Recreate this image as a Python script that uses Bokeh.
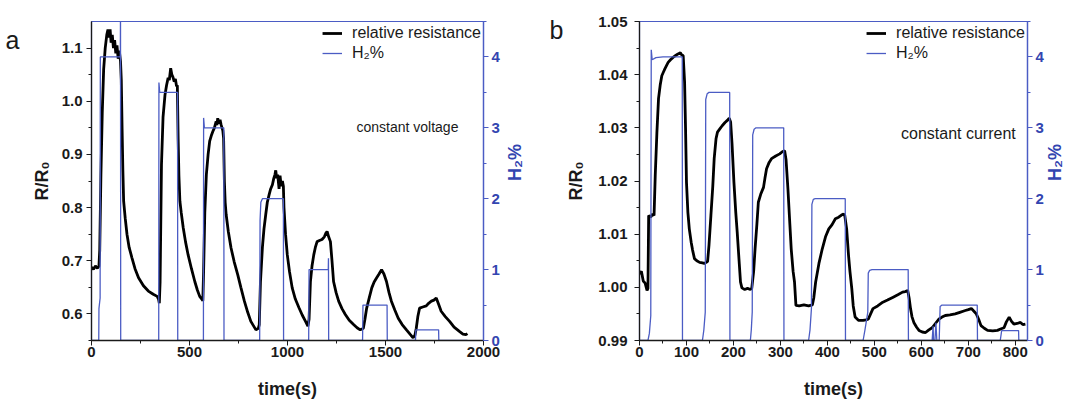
import math
from bokeh.plotting import figure
from bokeh.models import (Range1d, LinearAxis, SingleIntervalTicker, NumeralTickFormatter,
                          FixedTicker, CustomJSTickFormatter, Label, Legend, LegendItem)
from bokeh.layouts import row
from bokeh.embed import file_html
from bokeh.resources import INLINE

# ---------------- data: panel a (constant voltage) ----------------
t_a = [0, 10, 20, 30, 38, 42, 48, 55, 62, 70, 78, 84, 90, 95, 100, 106, 112, 118, 124, 130, 136, 142, 148,
       152, 156, 160, 164, 172, 181, 192, 206, 222, 240, 265, 290, 315, 335, 342, 346,
       350, 357, 365, 375, 383, 391, 397, 404, 410, 416, 422, 428, 434, 438,
       442, 446, 451, 458, 468, 480, 493, 510, 527, 540, 552, 562, 568,
       572, 578, 586, 595, 603, 611, 619, 627, 636, 640, 644, 650, 656, 661, 666, 670, 674,
       678, 682, 687, 698, 712, 728, 746, 762, 780, 797, 813, 826, 839, 851, 856,
       862, 872, 880, 889, 897, 906, 914, 923, 930, 936, 940, 945, 950, 957, 962, 968, 974, 979,
       982, 990, 999, 1010, 1024, 1040, 1058, 1075, 1092, 1104, 1110,
       1117, 1125, 1134, 1142, 1151, 1163, 1176, 1188, 1196, 1202, 1210, 1219,
       1227, 1235, 1248, 1261, 1278, 1295, 1315, 1337, 1355, 1371, 1387,
       1395, 1404, 1417, 1430, 1442, 1455, 1467, 1480, 1492, 1505,
       1518, 1530, 1548, 1565, 1585, 1607, 1625, 1641, 1650,
       1657, 1665, 1674, 1690, 1708, 1720, 1734, 1747, 1759,
       1771, 1784, 1805, 1827, 1850, 1877, 1895, 1910, 1918]
r_a = [0.688, 0.684, 0.690, 0.686, 0.690, 0.720, 0.860, 0.980, 1.060, 1.100, 1.125, 1.135, 1.120, 1.135, 1.110, 1.125, 1.100, 1.115, 1.090, 1.105, 1.080, 1.095, 1.075,
       1.040, 0.950, 0.870, 0.812, 0.780, 0.750, 0.725, 0.706, 0.685, 0.668, 0.653, 0.643, 0.637, 0.633, 0.628, 0.620,
       0.660, 0.880, 0.970, 1.012, 1.030, 1.044, 1.040, 1.062, 1.050, 1.045, 1.037, 1.042, 1.028, 1.030,
       0.930, 0.860, 0.812, 0.790, 0.762, 0.735, 0.711, 0.685, 0.661, 0.645, 0.633, 0.628, 0.625,
       0.680, 0.790, 0.862, 0.900, 0.925, 0.935, 0.943, 0.950, 0.962, 0.955, 0.968, 0.958, 0.965, 0.956, 0.950, 0.945, 0.930,
       0.849, 0.810, 0.787, 0.755, 0.724, 0.698, 0.674, 0.650, 0.624, 0.603, 0.586, 0.578, 0.570, 0.573, 0.580,
       0.660, 0.725, 0.760, 0.787, 0.810, 0.824, 0.835, 0.843, 0.855, 0.862, 0.870, 0.855, 0.862, 0.835, 0.860, 0.840, 0.850, 0.840,
       0.800, 0.750, 0.711, 0.680, 0.649, 0.628, 0.612, 0.598, 0.586, 0.577, 0.590,
       0.661, 0.690, 0.711, 0.725, 0.736, 0.738, 0.740, 0.745, 0.752, 0.755, 0.745, 0.736,
       0.700, 0.661, 0.640, 0.624, 0.610, 0.599, 0.588, 0.580, 0.574, 0.570, 0.573,
       0.590, 0.611, 0.630, 0.649, 0.660, 0.668, 0.675, 0.683, 0.675, 0.661,
       0.640, 0.624, 0.607, 0.592, 0.580, 0.570, 0.562, 0.555, 0.560,
       0.573, 0.595, 0.611, 0.613, 0.615, 0.620, 0.624, 0.626, 0.630,
       0.618, 0.605, 0.595, 0.586, 0.575, 0.567, 0.562, 0.561, 0.563]

th_a = [0, 37, 38, 44, 45, 147, 148, 149, 343, 344, 348, 439, 440, 571, 572, 576, 675, 676,
        858, 860, 864, 872, 979, 980, 1108, 1110, 1208, 1209, 1210, 1383, 1385, 1508, 1509,
        1653, 1655, 1771, 1772, 1918]
h_a = [0, 0, 0.45, 0.6, 4.0, 4.0, 4.7, 0, 0, 3.64, 3.5, 3.5, 0, 0, 3.14, 3.0, 3.0, 0,
       0, 1.7, 1.95, 2.0, 2.0, 0, 0, 1.0, 1.0, 1.16, 0, 0, 0.5, 0.5, 0,
       0, 0.15, 0.15, 0, 0]

# ---------------- data: panel b (constant current) ----------------
t_b = [0, 4, 8, 12, 16, 18, 19.5, 24, 28, 31, 33.5, 37, 40.5, 44, 47.5, 51, 54, 58, 61, 66, 72, 77, 82, 87, 90, 93,
       96, 98, 100, 103, 106, 110, 113, 117, 122, 128, 134, 138, 142, 145,
       148, 152, 156, 159, 163, 166, 171, 176, 182, 187, 191, 194,
       197, 201, 205, 208, 212, 215, 218, 224, 230, 236, 239,
       243, 246, 250, 253, 258, 264, 267, 270.5, 276, 281, 290, 298.5, 304, 309,
       312, 316, 320, 323, 327, 330, 333, 340, 350, 360, 368,
       371, 375, 382, 389, 396, 403, 410, 417, 424, 430, 434.5, 437,
       441, 445, 448, 452, 455, 459, 466, 476, 482, 487,
       492, 497, 507, 518, 528, 539, 550, 560, 566, 571,
       574, 577, 580, 584, 590, 595, 602, 609, 616, 623, 630, 637,
       644, 651, 661, 672, 682, 692, 700, 706.5, 712, 717,
       722, 727, 734, 741, 752, 762, 770, 776, 781, 787, 792, 797, 804, 811, 816, 821.5]
r_b = [1.0025, 1.0030, 1.0012, 1.0008, 0.9994, 0.9998, 1.0135, 1.0132, 1.0138, 1.0135, 1.0210, 1.0290, 1.0355, 1.0380,
       1.0398, 1.0405, 1.0411, 1.0418, 1.0423, 1.0428, 1.0433, 1.0436, 1.0439, 1.0441, 1.0437, 1.0436,
       1.0386, 1.0300, 1.0198, 1.0141, 1.0110, 1.0085, 1.0070, 1.0054, 1.0050, 1.0047, 1.0046, 1.0045, 1.0047, 1.0049,
       1.0080, 1.0135, 1.0190, 1.0242, 1.0280, 1.0292, 1.0298, 1.0304, 1.0310, 1.0314, 1.0318, 1.0311,
       1.0270, 1.0198, 1.0140, 1.0104, 1.0050, 1.0010, 0.9999, 0.9996, 0.9998, 0.9996, 0.9998,
       1.0030, 1.0072, 1.0120, 1.0160, 1.0175, 1.0188, 1.0205, 1.0223, 1.0235, 1.0242, 1.0247, 1.0251, 1.0255, 1.0257,
       1.0240, 1.0185, 1.0120, 1.0072, 1.0030, 1.0010, 0.9966, 0.9965, 0.9967, 0.9965, 0.9967,
       0.9980, 1.0010, 1.0045, 1.0072, 1.0095, 1.0110, 1.0118, 1.0129, 1.0132, 1.0136, 1.0138, 1.0135,
       1.0110, 1.0060, 1.0030, 0.9997, 0.9965, 0.9944, 0.9938, 0.9938, 0.9939, 0.9940,
       0.9950, 0.9960, 0.9965, 0.9972, 0.9976, 0.9981, 0.9986, 0.9991, 0.9992, 0.9994,
       0.9980, 0.9960, 0.9945, 0.9934, 0.9925, 0.9919, 0.9916, 0.9915, 0.9920, 0.9924, 0.9932, 0.9940,
       0.9944, 0.9947, 0.9948, 0.9950, 0.9953, 0.9956, 0.9958, 0.9960, 0.9955, 0.9950,
       0.9940, 0.9928, 0.9923, 0.9919, 0.9918, 0.9919, 0.9922, 0.9924, 0.9935, 0.9944, 0.9936, 0.9931, 0.9932, 0.9934, 0.9930, 0.9931]

th_b = [0, 18, 21, 24, 25, 27, 35, 50, 91, 91.5,
        134, 137, 140, 141, 144, 148, 192, 192.5,
        236, 238, 240, 241, 244, 248, 307, 307.5,
        360, 363, 366, 367, 370, 374, 438, 438.5,
        476, 480, 486, 487, 490, 495, 572, 572.5,
        623, 625, 626, 629, 631, 633, 638, 640, 644, 719, 719.5,
        768, 771, 807, 807.5, 826]
h_b = [0, 0, 0.1, 0.35, 4.1, 3.96, 3.99, 4.0, 4.0, 0,
       0, 0.15, 0.4, 3.4, 3.48, 3.5, 3.5, 0,
       0, 0.15, 0.4, 2.9, 2.98, 3.0, 3.0, 0,
       0, 0.15, 0.45, 1.92, 1.99, 2.0, 2.0, 0,
       0, 0.15, 0.4, 0.95, 0.99, 1.0, 1.0, 0,
       0, 0.2, 0, 0, 0.25, 0, 0, 0.48, 0.5, 0.5, 0,
       0, 0.14, 0.14, 0, 0]

legend_labels = ["relative resistance", "H\u2082%"]
BLUE = "#4b5cc4"
BLUE_TXT = "#3345b0"
DARK = "#1a1a1a"
FONT = "Liberation Sans"


def make_panel(t, r, th, h, xr, yr, xint, yint, yfmt, width, bl, br,
               ylab_standoff, tick_standoff, h2_standoff, letter, letter_y, letter_standoff,
               note, note_xy, note_size):
    p = figure(width=width, height=402, output_backend="svg", toolbar_location=None,
               x_range=Range1d(*xr), y_range=Range1d(*yr),
               min_border_left=bl, min_border_right=br, min_border_top=21, min_border_bottom=62)
    p.extra_y_ranges = {"h2": Range1d(0, 4.5)}
    p.xgrid.visible = False
    p.ygrid.visible = False
    p.outline_line_color = BLUE
    p.outline_line_width = 1.2
    p.background_fill_color = "white"
    p.border_fill_color = "white"

    rb = p.line(t, r, line_color="black", line_width=2.8)
    hb = p.line(th, h, line_color=BLUE, line_width=1.3, y_range_name="h2")

    xa = p.xaxis[0]
    xa.ticker = SingleIntervalTicker(interval=xint, num_minor_ticks=2)
    xa.axis_label = "time(s)"
    ya = p.yaxis[0]
    ya.ticker = SingleIntervalTicker(interval=yint, num_minor_ticks=2)
    ya.formatter = NumeralTickFormatter(format=yfmt)
    ya.axis_label = "R/R\u2080"
    for ax in (xa, ya):
        ax.axis_line_color = DARK
        ax.axis_line_width = 1.3
        ax.major_tick_line_color = DARK
        ax.minor_tick_line_color = DARK
        ax.major_tick_in = 0
        ax.major_tick_out = 5
        ax.minor_tick_in = 0
        ax.minor_tick_out = 3
        ax.major_label_text_font = FONT
        ax.major_label_text_font_style = "bold"
        ax.major_label_text_font_size = "15px"
        ax.major_label_text_color = DARK
        ax.axis_label_text_font = FONT
        ax.axis_label_text_font_style = "bold"
        ax.axis_label_text_font_size = "18px"
        ax.axis_label_text_color = DARK
    xa.major_label_standoff = 1
    xa.axis_label_standoff = 19
    ya.major_label_standoff = tick_standoff
    ya.axis_label_standoff = ylab_standoff

    ra = LinearAxis(y_range_name="h2", ticker=SingleIntervalTicker(interval=1, num_minor_ticks=2))
    ra.axis_line_color = BLUE
    ra.axis_line_width = 1.3
    ra.major_tick_line_color = BLUE
    ra.minor_tick_line_color = BLUE
    ra.major_tick_in = 0
    ra.major_tick_out = 5
    ra.minor_tick_in = 0
    ra.minor_tick_out = 3
    ra.major_label_text_font = FONT
    ra.major_label_text_font_style = "bold"
    ra.major_label_text_font_size = "15px"
    ra.major_label_text_color = BLUE_TXT
    ra.major_label_standoff = 3
    ra.axis_label = "H\u2082%"
    ra.axis_label_text_font = FONT
    ra.axis_label_text_font_style = "bold"
    ra.axis_label_text_font_size = "18px"
    ra.axis_label_text_color = BLUE_TXT
    ra.axis_label_standoff = h2_standoff
    try:
        ra.axis_label_orientation = math.pi / 2
    except Exception:
        pass
    p.add_layout(ra, "right")

    # panel letter: an outer left axis whose single tick label is the letter
    la = LinearAxis(ticker=FixedTicker(ticks=[letter_y], minor_ticks=[]),
                    formatter=CustomJSTickFormatter(code="return '%s';" % letter))
    la.axis_line_color = None
    la.major_tick_line_color = None
    la.minor_tick_line_color = None
    la.major_tick_in = 0
    la.major_tick_out = 0
    la.major_label_standoff = letter_standoff
    la.major_label_text_font = FONT
    la.major_label_text_font_size = "25px"
    la.major_label_text_color = DARK
    p.add_layout(la, "left")

    leg = Legend(items=[LegendItem(label=legend_labels[0], renderers=[rb]),
                        LegendItem(label=legend_labels[1], renderers=[hb])],
                 location="top_right", border_line_alpha=0, background_fill_alpha=0,
                 label_text_font=FONT, label_text_font_size="16px", label_text_color=DARK,
                 glyph_width=20, glyph_height=16, label_standoff=10, label_height=20,
                 spacing=0, padding=2, margin=0)
    p.add_layout(leg)

    p.add_layout(Label(x=note_xy[0], y=note_xy[1], text=note, text_font=FONT,
                       text_font_size=note_size, text_align="right", text_baseline="alphabetic",
                       text_color=DARK))
    return p


pa = make_panel(t_a, r_a, th_a, h_a, (0, 2000), (0.55, 1.15), 500, 0.1, "0.0", 537, 91, 50, 7, 4, 12,
                "a", 1.1152, 9, "constant voltage", (1872, 0.9516), "14px")
pb = make_panel(t_b, r_b, th_b, h_b, (0, 826), (0.99, 1.05), 100, 0.01, "0.00", 540, 102, 43, 9, 7, 8,
                "b", 1.0484, 0, "constant current", (801, 1.0289), "16px")

layout = row(pa, pb)
open("out.html", "w").write(file_html(layout, INLINE))
